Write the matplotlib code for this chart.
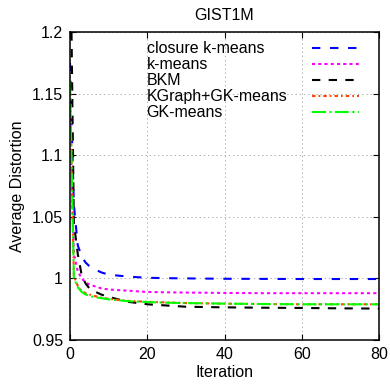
import matplotlib
matplotlib.use("Agg")
import matplotlib.pyplot as plt
from matplotlib.lines import Line2D
from matplotlib.ticker import FuncFormatter

plt.rcParams['font.family'] = ['Liberation Sans', 'DejaVu Sans']
plt.rcParams['lines.scale_dashes'] = False

FS = 11.5

# Data
iterations = [0, 1, 2, 3, 4, 5, 6, 8, 10, 15, 20, 25, 30, 40, 50, 60, 70, 80]
closure_kmeans = [1.175, 1.060, 1.027, 1.018, 1.013, 1.010, 1.008, 1.005, 1.003, 1.0015,
                  1.0005, 1.0002, 1.0000, 0.9997, 0.9996, 0.9995, 0.9995, 0.9995]
kmeans = [1.130, 1.020, 1.006, 1.000, 0.997, 0.995, 0.994, 0.992, 0.991, 0.990,
          0.989, 0.9887, 0.9885, 0.9882, 0.988, 0.988, 0.988, 0.988]
bkm = [1.300, 1.045, 1.020, 1.003, 0.996, 0.992, 0.990, 0.987, 0.985, 0.981,
       0.979, 0.978, 0.977, 0.9765, 0.9762, 0.976, 0.9757, 0.9755]
kgraph_gk = [1.160, 1.002, 0.994, 0.990, 0.988, 0.987, 0.986, 0.9845, 0.9835, 0.9818,
             0.981, 0.9805, 0.980, 0.9795, 0.9792, 0.979, 0.979, 0.979]
gk_means = [1.160, 1.000, 0.993, 0.989, 0.987, 0.986, 0.985, 0.984, 0.983, 0.9815,
            0.9808, 0.9803, 0.980, 0.9795, 0.9792, 0.979, 0.979, 0.979]

labels = ['closure k-means', 'k-means', 'BKM', 'KGraph+GK-means', 'GK-means']
series = [closure_kmeans, kmeans, bkm, kgraph_gk, gk_means]
colors = ['#0000ff', '#ff00ff', '#000000', '#ff4500', '#00ff00']
dashes = [(0, (6, 7)), (0, (2.2, 2.3)), (0, (6, 6)), (0, (2.5, 2.2, 1.2, 2.2)),
          (0, (10, 2.5, 1.5, 2.5))]

fig = plt.figure(figsize=(3.9, 3.88), dpi=100)
ax = fig.add_axes([70 / 390, 48 / 388, 309 / 390, 308 / 388])

for vals, col, ls in zip(series, colors, dashes):
    ax.plot(iterations, vals, color=col, linestyle=ls, linewidth=1.5)

ax.set_xlim(0, 80)
ax.set_ylim(0.95, 1.2)
ax.set_xticks([0, 20, 40, 60, 80])
ax.set_yticks([0.95, 1.0, 1.05, 1.1, 1.15, 1.2])
ax.yaxis.set_major_formatter(FuncFormatter(lambda v, p: '%g' % round(v, 2)))
ax.tick_params(direction='in', length=4, width=0.8, top=True, right=True,
               labelsize=FS, pad=5, colors='black')
for sp in ax.spines.values():
    sp.set_linewidth(1.1)
ax.grid(True, color='#b0b0b0', linestyle=(0, (1, 2)), linewidth=0.7)

ax.set_xlabel('Iteration', fontsize=FS, labelpad=2)
ax.set_ylabel('Average Distortion', fontsize=FS, labelpad=5)
ax.set_title('GIST1M', fontsize=FS, pad=9)

# gnuplot style key: text left aligned, sample lines on the right
for i, (lab, col, ls) in enumerate(zip(labels, colors, dashes)):
    y = 0.948 - i * 0.052
    ax.text(0.248, y, lab, transform=ax.transAxes, fontsize=FS, va='center', ha='left')
    ax.add_line(Line2D([0.783, 0.935], [y, y], transform=ax.transAxes,
                       color=col, linestyle=ls, linewidth=1.5))

fig.savefig('out.png', dpi=100, facecolor='white')
